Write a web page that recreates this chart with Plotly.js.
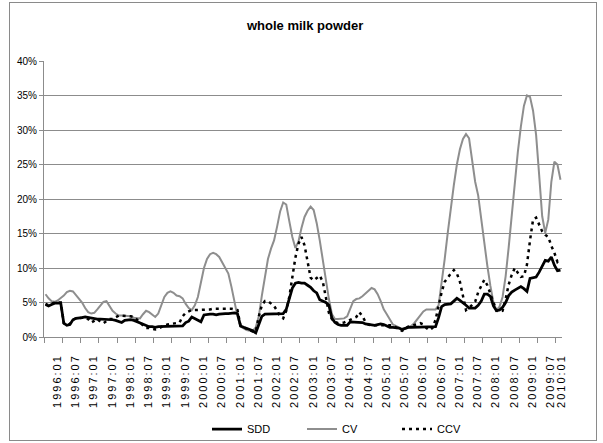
<!DOCTYPE html>
<html><head><meta charset="utf-8">
<script src="https://cdn.plot.ly/plotly-3.0.1.min.js"></script>
<style>
html,body{margin:0;padding:0;background:#fff;}
#wrap{position:relative;width:603px;height:443px;}
#chart{width:603px;height:443px;}
#frame{position:absolute;left:9px;top:2px;width:586px;height:437px;border:1px solid #8a8a8a;pointer-events:none;}
#chart .x2tick text{letter-spacing:2px;}
</style></head><body>
<div id="wrap"><div id="chart"></div><div id="frame"></div></div>
<script>
// Monthly series, 1996:01 .. 2010:02 (values in %)
const tickLabels = ["1996:01","1996:07","1997:01","1997:07","1998:01","1998:07","1999:01","1999:07",
  "2000:01","2000:07","2001:01","2001:07","2002:01","2002:07","2003:01","2003:07","2004:01","2004:07",
  "2005:01","2005:07","2006:01","2006:07","2007:01","2007:07","2008:01","2008:07","2009:01","2009:07","2010:01"];

const sdd = [4.7,4.5,4.7,4.9,4.9,4.9, 2.0,1.7,1.8,2.5,2.7,2.7, 2.8,2.9,2.8,2.7,2.6,2.6,
  2.6,2.6,2.6,2.6,2.5,2.4, 2.2,2.1,2.4,2.5,2.5,2.4, 2.2,2.1,1.9,1.6,1.5,1.5,
  1.4,1.5,1.5,1.5,1.6,1.6, 1.6,1.6,1.6,1.6,2.1,2.3, 2.9,2.7,2.5,2.2,3.2,3.3,
  3.3,3.3,3.2,3.3,3.4,3.4, 3.4,3.5,3.5,3.4,1.6,1.4, 1.3,1.1,0.9,0.6,1.8,3.0,
  3.3,3.3,3.3,3.3,3.3,3.3, 3.4,4.0,5.6,7.1,7.8,7.9, 7.8,7.8,7.5,7.2,6.7,6.4,
  5.4,5.2,5.0,4.6,2.7,2.1, 1.8,1.7,1.7,1.7,2.2,2.2, 2.1,2.1,2.1,1.9,1.8,1.7,
  1.7,1.8,1.9,1.8,1.6,1.4, 1.4,1.4,1.3,1.1,1.3,1.4, 1.4,1.4,1.5,1.5,1.5,1.5,
  1.4,1.4,1.5,2.8,4.4,4.7, 4.8,4.8,5.2,5.6,5.3,5.0, 4.6,4.2,4.2,4.2,4.6,5.2,
  6.2,6.2,5.9,4.5,3.8,3.9, 4.3,5.0,6.0,6.5,6.8,7.1, 7.3,7.0,6.6,8.5,8.6,8.7,
  9.4,10.2,11.1,11.0,11.6,10.4, 9.6,9.7];

const cv = [6.2,5.6,5.2,5.1,5.3,5.6, 6.0,6.5,6.7,6.6,6.1,5.5, 5.0,4.2,3.6,3.4,3.5,4.0,
  4.6,5.1,5.2,4.5,3.8,3.4, 3.1,3.1,3.1,3.0,3.0,2.8, 2.7,2.7,3.3,3.8,3.6,3.2,
  2.9,3.4,4.6,5.8,6.4,6.6, 6.4,6.0,5.9,5.6,4.8,4.2, 3.9,4.6,5.8,8.0,10.0,11.3,
  12.0,12.2,12.0,11.6,10.8,9.9, 9.2,7.3,5.0,3.0,1.5,1.2, 1.0,0.9,0.9,1.4,3.0,6.0,
  9.0,11.3,12.8,14.0,16.0,18.2, 19.5,19.2,16.8,14.5,12.9,13.8, 15.8,17.4,18.3,18.9,18.4,16.5,
  14.0,11.0,8.3,5.5,3.3,2.6, 2.6,2.6,2.7,3.0,4.0,5.2, 5.5,5.6,5.9,6.3,6.8,7.1,
  6.9,6.2,5.2,4.0,3.3,2.6, 1.8,1.6,1.4,1.1,1.2,1.4, 1.6,2.0,2.6,3.2,3.7,4.0,
  4.0,3.9,4.0,4.6,7.8,11.3, 15.1,18.7,22.0,25.0,27.2,28.7, 29.4,28.8,25.8,22.5,20.5,17.0,
  13.8,10.3,7.4,5.0,3.9,4.4, 5.8,8.8,13.0,17.6,22.5,26.8, 30.5,33.5,35.0,34.8,32.8,29.3,
  23.5,17.5,15.1,17.0,22.5,25.4, 25.0,22.8];

const ccv = [4.8,4.6,4.8,5.0,5.0,5.0, 2.0,1.8,1.9,2.5,2.7,2.8, 2.8,2.8,2.6,2.1,2.4,2.6,
  2.2,2.0,2.3,2.6,2.6,2.8, 3.1,3.1,3.1,3.1,3.0,2.9, 2.5,2.1,1.7,1.3,1.3,1.2,
  1.1,1.2,1.5,1.7,1.8,1.9, 2.0,2.0,2.1,3.0,3.5,3.7, 3.9,3.9,3.9,3.9,4.0,4.0,
  4.0,4.1,4.1,4.2,4.2,4.2, 4.2,4.1,4.0,3.9,1.6,1.4, 1.2,1.0,0.8,0.8,3.0,4.6,
  5.2,5.2,4.9,4.5,3.8,3.0, 2.7,3.8,5.8,8.5,11.5,13.5, 14.5,13.3,11.0,8.6,8.2,8.5,
  8.9,8.0,5.8,3.5,2.6,2.2, 2.0,2.0,2.1,2.3,2.5,2.7, 2.9,3.6,3.0,2.2,1.8,1.7,
  1.7,1.8,1.8,1.7,1.7,1.7, 1.7,1.4,1.1,0.9,1.2,1.5, 1.6,1.7,1.8,2.0,1.8,1.3,
  1.0,1.3,2.5,4.5,6.5,8.0, 8.7,9.2,9.7,9.2,8.0,6.0, 3.9,4.2,4.7,5.1,6.5,7.5,
  8.3,7.5,6.2,5.0,3.8,3.7, 3.8,5.5,7.6,9.0,10.0,9.3, 8.7,8.8,10.5,14.0,17.0,17.3,
  16.2,15.3,14.8,14.5,13.2,12.2, 10.9,11.4];

const yTicks = [0,5,10,15,20,25,30,35,40];

const n = sdd.length;
const xIdx = sdd.map((_, i) => i);
const boundaryTicks = tickLabels.map((_, k) => k * 6 - 0.5);
const labelPos = tickLabels.map((_, k) => Math.min(k * 6 + 2.5, n - 1.9));

const FONT = "Liberation Sans, Arial, sans-serif";
const GRID = "#8c8c8c";

const traces = [
  {x: xIdx, y: cv, name: "CV", type: "scatter", mode: "lines",
   line: {color: "#8e8e8e", width: 2}, legendrank: 2},
  {x: xIdx, y: sdd, name: "SDD", type: "scatter", mode: "lines",
   line: {color: "#000000", width: 2.75}, legendrank: 1},
  {x: xIdx, y: ccv, name: "CCV", type: "scatter", mode: "lines",
   line: {color: "#000000", width: 2.5, dash: "3px,4px"}, legendrank: 3},
  {x: [0], y: [null], xaxis: "x2", type: "scatter", mode: "lines",
   showlegend: false, hoverinfo: "skip"}
];

const layout = {
  width: 603, height: 443,
  margin: {l: 44, r: 41, t: 61, b: 106},
  paper_bgcolor: "#ffffff", plot_bgcolor: "#ffffff",
  font: {family: FONT, color: "#000000", size: 11},
  title: {text: "<b>whole milk powder</b>", font: {family: FONT, size: 13, color: "#000"},
          x: 0.506, xref: "container", xanchor: "center", y: 1 - 25/443, yref: "container", yanchor: "middle"},
  showlegend: true,
  legend: {orientation: "h", xref: "container", yref: "container",
           x: 207/603, xanchor: "left", y: 1 - 429/443, yanchor: "middle",
           bgcolor: "rgba(0,0,0,0)",
           font: {family: FONT, size: 11, color: "#000"}, entrywidth: 50, traceorder: "normal"},
  xaxis: {range: [-0.5, n - 0.5], showgrid: false, zeroline: false,
          showline: true, linecolor: GRID, linewidth: 1,
          tickmode: "array", tickvals: boundaryTicks, showticklabels: false,
          ticks: "outside", ticklen: 5, tickcolor: GRID, tickwidth: 1},
  xaxis2: {overlaying: "x", side: "bottom", range: [-0.5, n - 0.5], showgrid: false, zeroline: false,
           showline: false, tickmode: "array", tickvals: labelPos, ticktext: tickLabels,
           ticks: "", tickangle: -90, ticklabelstandoff: 14, ticklabelshift: 4,
           tickfont: {family: FONT, size: 11, color: "#000"}},
  yaxis: {range: [0, 40], tickmode: "array", tickvals: yTicks, ticktext: yTicks.map(v => v + "%"),
          showgrid: true, gridcolor: GRID, gridwidth: 1, zeroline: false,
          showline: true, linecolor: GRID, linewidth: 1,
          ticks: "outside", ticklen: 4, tickcolor: GRID,
          tickfont: {family: FONT, size: 10, color: "#000"}}
};

Plotly.newPlot("chart", traces, layout, {displayModeBar: false, staticPlot: true});
</script></body></html>
